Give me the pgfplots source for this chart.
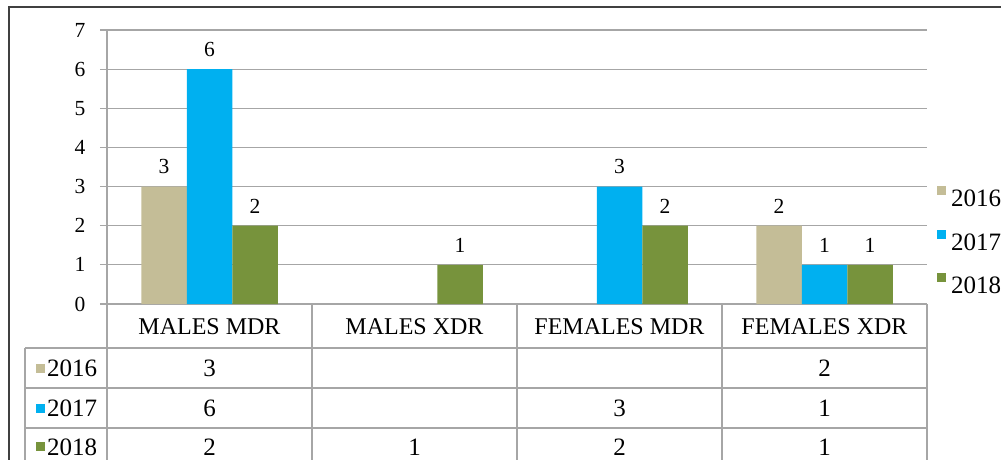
\documentclass[border=0pt]{standalone}
\usepackage{pgfplots}
\pgfplotsset{compat=1.18}
\usepackage{fontspec}
\setmainfont{Liberation Serif}
\definecolor{ctan}{HTML}{C4BD97}
\definecolor{cblue}{HTML}{00B0F0}
\definecolor{cgreen}{HTML}{77933C}
\definecolor{cgrid}{HTML}{A6A6A6}
\begin{document}
\begin{tikzpicture}
\path[use as bounding box] (0pt,0pt) rectangle (1001pt,-460pt);
\clip (0pt,0pt) rectangle (1001pt,-460pt);
\begin{axis}[
  at={(107pt,-304pt)}, anchor=south west,
  scale only axis, width=820pt, height=274pt,
  xmin=-0.5, xmax=3.5, ymin=0, ymax=7,
  ybar=0pt, bar width=45.5pt,
  xtick=\empty,
  ytick={0,1,...,7},
  ymajorgrids, grid style={cgrid, line width=1.2pt},
  axis line style={cgrid, line width=1.2pt},
  axis x line*=bottom, axis y line*=left,
  y axis line style={-}, x axis line style={-},
  tick align=outside, major tick length=7pt,
  tick style={cgrid, line width=1.2pt},
  /pgf/number format/assume math mode=true,
  yticklabel style={font=\fontsize{21.5}{21.5}\selectfont, anchor=east, xshift=-11pt},
  nodes near coords,
  every node near coord/.append style={font=\fontsize{21.5}{21.5}\selectfont, text=black, yshift=9pt},
  clip=false,
  legend style={at={(rel axis cs:1.0122,0.2336)}, anchor=west, draw=none, fill=none,
    font=\fontsize{25}{25}\selectfont, row sep=23pt, inner sep=0pt,
    nodes={inner sep=0pt, text height=17pt, text depth=0pt}},
  legend image code/.code={\fill[#1, draw=none] (0pt,3pt) rectangle (9pt,12pt); \path (14pt,3pt);},
  legend cell align=left,
]
\addplot[fill=ctan, draw=none] coordinates {(0,3) (3,2)};
\addplot[fill=cblue, draw=none] coordinates {(0,6) (2,3) (3,1)};
\addplot[fill=cgreen, draw=none] coordinates {(0,2) (1,1) (2,2) (3,1)};
\legend{2016,2017,2018}
% category header row
\foreach \i/\n in {0/MALES MDR,1/MALES XDR,2/FEMALES MDR,3/FEMALES XDR}{
  \edef\tmp{\noexpand\node[font=\noexpand\fontsize{24}{24}\noexpand\selectfont, anchor=center] at (axis cs:\i,0) [yshift=-23pt] {\n};}\tmp
}
% data table values
\node[font=\fontsize{25}{25}\selectfont] at (axis cs:0,0) [yshift=-64pt] {3};
\node[font=\fontsize{25}{25}\selectfont] at (axis cs:3,0) [yshift=-64pt] {2};
\node[font=\fontsize{25}{25}\selectfont] at (axis cs:0,0) [yshift=-104pt] {6};
\node[font=\fontsize{25}{25}\selectfont] at (axis cs:2,0) [yshift=-104pt] {3};
\node[font=\fontsize{25}{25}\selectfont] at (axis cs:3,0) [yshift=-104pt] {1};
\node[font=\fontsize{25}{25}\selectfont] at (axis cs:0,0) [yshift=-143pt] {2};
\node[font=\fontsize{25}{25}\selectfont] at (axis cs:1,0) [yshift=-143pt] {1};
\node[font=\fontsize{25}{25}\selectfont] at (axis cs:2,0) [yshift=-143pt] {2};
\node[font=\fontsize{25}{25}\selectfont] at (axis cs:3,0) [yshift=-143pt] {1};
\end{axis}
% table grid
\begin{scope}[cgrid, line width=1.2pt]
\foreach \x in {107,312,517,722,927}{\draw (\x pt,-304pt) -- (\x pt,-470pt);}
\draw (25pt,-348pt) -- (25pt,-470pt);
\foreach \y in {348,388,428}{\draw (25pt,-\y pt) -- (927pt,-\y pt);}
\end{scope}
% table row keys
\fill[ctan] (36pt,-364pt) rectangle (45pt,-373pt);
\fill[cblue] (36pt,-404pt) rectangle (45pt,-413pt);
\fill[cgreen] (36pt,-442pt) rectangle (45pt,-451pt);
\node[font=\fontsize{25}{25}\selectfont, anchor=west, inner sep=0pt] at (47pt,-368pt) {2016};
\node[font=\fontsize{25}{25}\selectfont, anchor=west, inner sep=0pt] at (47pt,-408pt) {2017};
\node[font=\fontsize{25}{25}\selectfont, anchor=west, inner sep=0pt] at (47pt,-447pt) {2018};
% outer frame
\draw[black!75, line width=2pt] (9pt,-470pt) -- (9pt,-7pt) -- (1010pt,-7pt);
\end{tikzpicture}
\end{document}
